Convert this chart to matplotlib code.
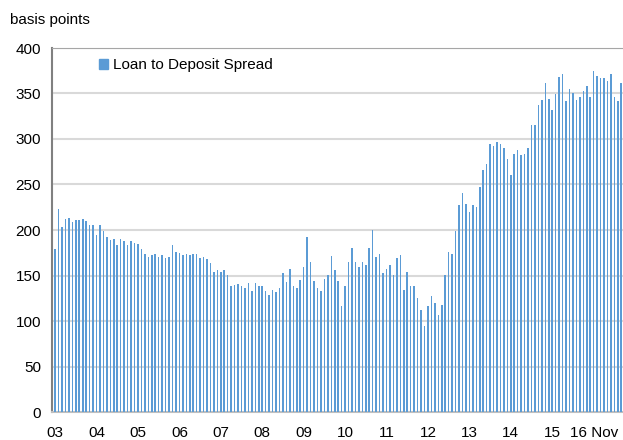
import numpy as np
import matplotlib
matplotlib.use('Agg')
import matplotlib.pyplot as plt
from matplotlib.patches import Patch

plt.rcParams['font.family'] = ['Liberation Sans', 'DejaVu Sans']
plt.rcParams['font.size'] = 11

# monthly loan to deposit spread, basis points (first bar = 2003 label)
spread = [
    179, 223, 203, 212, 213, 209, 211, 211, 212, 210, 206, 205, 195, 205, 199,
    192, 189, 190, 183, 190, 188, 183, 188, 186, 185, 179, 174, 170, 173,
    174, 170, 172, 169, 170, 183, 176, 175, 172, 174, 173, 174, 174, 169, 170,
    168, 164, 154, 156, 154, 156, 151, 139, 140, 141, 138, 136, 142, 133,
    142, 139, 138, 133, 129, 134, 132, 136, 153, 143, 157, 139, 136, 145, 159,
    192, 165, 144, 136, 133, 146, 151, 171, 156, 144, 116, 138, 165, 180,
    165, 159, 165, 161, 180, 200, 170, 174, 153, 157, 161, 151, 169, 172, 134,
    154, 139, 138, 125, 112, 94, 116, 127, 120, 107, 118, 151, 176, 174,
    199, 228, 241, 229, 220, 227, 225, 247, 266, 273, 295, 292, 297, 295, 290,
    278, 260, 284, 288, 282, 284, 290, 315, 315, 337, 343, 361, 344, 332,
    349, 368, 371, 342, 355, 350, 343, 346, 353, 358, 346, 375, 369, 367, 367,
    364, 371, 346, 342, 361,
]
year_labels = ['03', '04', '05', '06', '07', '08', '09', '10', '11', '12',
               '13', '14', '15', '16 Nov']

blue = '#5b9bd5'
x = np.arange(len(spread))

fig = plt.figure(figsize=(6.23, 4.4), dpi=100)
ax = fig.add_axes([52 / 623, 1 - 412 / 440, 1 - 52 / 623, 364 / 440])

ax.bar(x, spread, width=0.45, color=blue, zorder=3)

ax.set_ylim(0, 400)
ax.set_yticks(range(0, 401, 50))
ax.set_xlim(-0.9, len(spread) - 0.5)
ax.set_xticks(x[::12])
ax.set_xticklabels(year_labels)
ax.tick_params(axis='both', length=0, labelsize=11, colors='black')
ax.tick_params(axis='y', pad=8)
ax.tick_params(axis='x', pad=10)
ax.grid(axis='y', color='#d9d9d9', linewidth=1.5, zorder=0)

ax.spines['left'].set_color('#808080')
ax.spines['left'].set_linewidth(1.5)
ax.spines['bottom'].set_color('#bfbfbf')
ax.spines['bottom'].set_linewidth(1.5)
ax.spines['top'].set_color('#a6a6a6')
ax.spines['right'].set_visible(False)

ax.legend(handles=[Patch(color=blue, label='Loan to Deposit Spread')],
          loc='upper left', bbox_to_anchor=(0.058, 1.01), frameon=False,
          handlelength=0.6, handleheight=0.6, handletextpad=0.3, fontsize=11)

fig.text(10 / 623, 1 - 20 / 440, 'basis points', ha='left', va='center', fontsize=11)

fig.savefig('out.png', dpi=100)
